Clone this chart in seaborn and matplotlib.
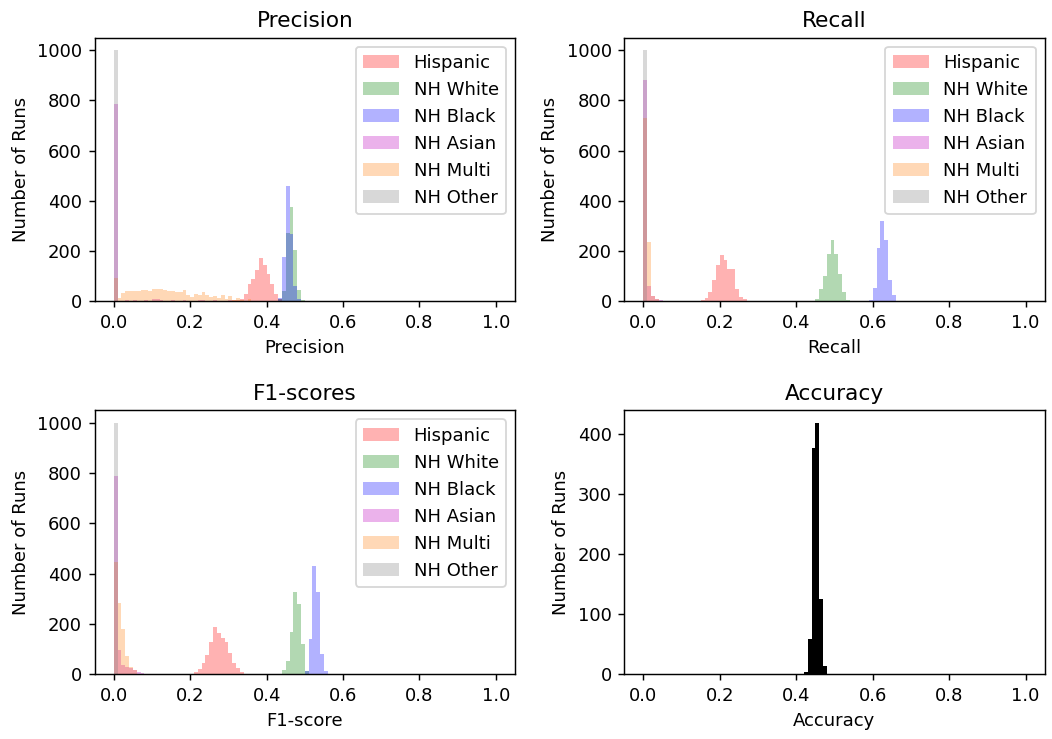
import numpy as np
import pandas as pd
import matplotlib
matplotlib.use("Agg")
import matplotlib.pyplot as plt
import seaborn as sns

# bin edges: 100 bins of width 0.01 from 0 to 1
edges = list(np.linspace(0, 1, 101))

groups = ['Hispanic', 'NH White', 'NH Black', 'NH Asian', 'NH Multi', 'NH Other']
colors = ['red', 'green', 'blue', 'm', 'tab:orange', 'grey']

# Precision (left edge of bin -> number of runs)
prec_hisp_x = [0.29, 0.31, 0.32, 0.33, 0.34, 0.35, 0.36, 0.37, 0.38, 0.39, 0.40, 0.41, 0.42, 0.43]
prec_hisp_n = [3, 5, 4, 9, 27, 69, 89, 123, 172, 143, 109, 69, 29, 9]
prec_white_x = [0.43, 0.44, 0.45, 0.46, 0.47, 0.48, 0.49]
prec_white_n = [10, 40, 270, 375, 205, 45, 5]
prec_black_x = [0.43, 0.44, 0.45, 0.46, 0.47, 0.48]
prec_black_n = [12, 175, 460, 268, 60, 10]
prec_asian_x = [0.00, 0.03, 0.05, 0.08, 0.10, 0.11, 0.12, 0.15, 0.18, 0.22, 0.23, 0.26, 0.30, 0.33]
prec_asian_n = [787, 5, 7, 5, 8, 8, 7, 5, 6, 6, 5, 4, 4, 3]
prec_multi_x = [0.00, 0.01, 0.02, 0.03, 0.04, 0.05, 0.06, 0.07, 0.08, 0.09, 0.10, 0.11, 0.12,
                0.13, 0.14, 0.15, 0.16, 0.17, 0.18, 0.19, 0.20, 0.21, 0.22, 0.23, 0.24, 0.25,
                0.26, 0.27, 0.28, 0.29, 0.30, 0.31, 0.32, 0.33, 0.35]
prec_multi_n = [93, 13, 32, 40, 40, 40, 40, 43, 43, 40, 47, 49, 47,
                43, 40, 40, 37, 37, 43, 23, 16, 29, 23, 36, 23, 16,
                19, 13, 23, 9, 19, 5, 13, 5, 9]
prec_other_x = [0.00]
prec_other_n = [1000]

# Recall
rec_hisp_x = [0.15, 0.16, 0.17, 0.18, 0.19, 0.20, 0.21, 0.22, 0.23, 0.24, 0.25, 0.26]
rec_hisp_n = [4, 13, 37, 83, 144, 184, 163, 129, 129, 47, 17, 9]
rec_white_x = [0.45, 0.46, 0.47, 0.48, 0.49, 0.50, 0.51, 0.52, 0.53]
rec_white_n = [9, 47, 100, 187, 243, 189, 109, 37, 7]
rec_black_x = [0.59, 0.60, 0.61, 0.62, 0.63, 0.64, 0.65]
rec_black_n = [7, 51, 213, 320, 243, 83, 23]
rec_asian_x = [0.00, 0.01, 0.02, 0.03, 0.04]
rec_asian_n = [880, 60, 20, 11, 4]
rec_multi_x = [0.00, 0.01, 0.02, 0.03]
rec_multi_n = [731, 236, 20, 8]
rec_other_x = [0.00]
rec_other_n = [1000]

# F1-scores
f1_hisp_x = [0.21, 0.22, 0.23, 0.24, 0.25, 0.26, 0.27, 0.28, 0.29, 0.30, 0.31, 0.32, 0.33]
f1_hisp_n = [9, 19, 42, 76, 129, 186, 162, 145, 129, 85, 42, 23, 9]
f1_white_x = [0.44, 0.45, 0.46, 0.47, 0.48, 0.49, 0.50]
f1_white_n = [16, 53, 166, 325, 279, 119, 11]
f1_black_x = [0.50, 0.51, 0.52, 0.53, 0.54, 0.55]
f1_black_n = [11, 139, 431, 325, 80, 13]
f1_asian_x = [0.00, 0.01, 0.02, 0.03, 0.04, 0.05, 0.06, 0.07]
f1_asian_n = [790, 96, 36, 29, 23, 16, 9, 5]
f1_multi_x = [0.00, 0.01, 0.02, 0.03, 0.04, 0.05]
f1_multi_n = [447, 284, 178, 72, 29, 16]
f1_other_x = [0.00]
f1_other_n = [1000]

# Accuracy
acc_x = [0.42, 0.43, 0.44, 0.45, 0.46, 0.47]
acc_n = [4, 58, 378, 419, 125, 13]

precision = [(prec_hisp_x, prec_hisp_n), (prec_white_x, prec_white_n), (prec_black_x, prec_black_n),
             (prec_asian_x, prec_asian_n), (prec_multi_x, prec_multi_n), (prec_other_x, prec_other_n)]
recall = [(rec_hisp_x, rec_hisp_n), (rec_white_x, rec_white_n), (rec_black_x, rec_black_n),
          (rec_asian_x, rec_asian_n), (rec_multi_x, rec_multi_n), (rec_other_x, rec_other_n)]
f1 = [(f1_hisp_x, f1_hisp_n), (f1_white_x, f1_white_n), (f1_black_x, f1_black_n),
      (f1_asian_x, f1_asian_n), (f1_multi_x, f1_multi_n), (f1_other_x, f1_other_n)]


def hist(ax, xs, ns, color, label=None, alpha=0.3):
    # put each value in the middle of its bin
    df = pd.DataFrame({'value': np.array(xs) + 0.005, 'runs': ns})
    sns.histplot(data=df, x='value', weights='runs', bins=edges, color=color, alpha=alpha,
                 label=label, linewidth=0, ax=ax)


fig, axes = plt.subplots(2, 2, figsize=(1052 / 130, 739 / 130), dpi=130)
plt.subplots_adjust(left=0.090, right=0.993, top=0.949, bottom=0.088, wspace=0.26, hspace=0.414)

panels = [(axes[0, 0], precision, 'Precision', 'Precision'),
          (axes[0, 1], recall, 'Recall', 'Recall'),
          (axes[1, 0], f1, 'F1-scores', 'F1-score')]

for ax, series, title, xlabel in panels:
    for (xs, ns), g, c in zip(series, groups, colors):
        hist(ax, xs, ns, c, label=g)
    ax.set_title(title)
    ax.set_xlabel(xlabel)
    ax.set_ylabel('Number of Runs')
    ax.set_xlim(-0.05, 1.05)
    ax.legend(loc='upper right')

ax = axes[1, 1]
hist(ax, acc_x, acc_n, 'black', alpha=1)
ax.set_title('Accuracy')
ax.set_xlabel('Accuracy')
ax.set_ylabel('Number of Runs')
ax.set_xlim(-0.05, 1.05)

fig.savefig('out.png', dpi=130)
